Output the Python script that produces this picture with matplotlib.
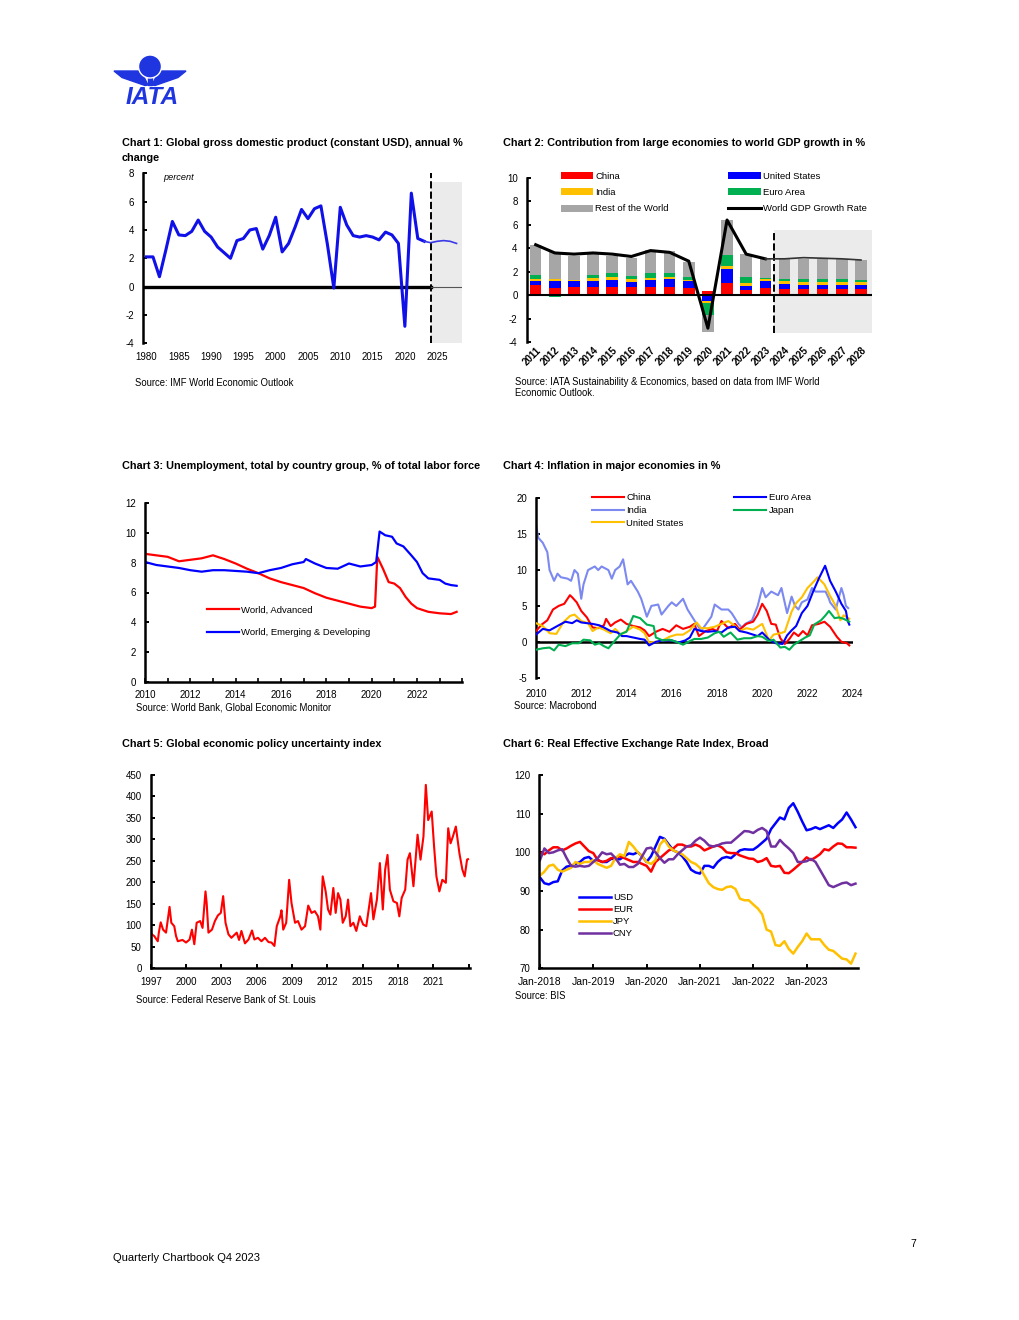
import matplotlib.pyplot as plt
import numpy as np
from matplotlib.patches import Rectangle, Circle, Polygon

plt.rcParams['font.family'] = ['Liberation Sans', 'DejaVu Sans']
plt.rcParams['axes.unicode_minus'] = False

# ---------------- data ----------------
# Chart 1: world GDP growth, % (2024+ forecast)
gdp_years = list(range(1980, 2029))
gdp_growth = [2.1, 2.1, 0.7, 2.6, 4.6, 3.65, 3.6, 3.9, 4.7, 3.9,
              3.5, 2.8, 2.4, 2.0, 3.25, 3.4, 4.0, 4.1, 2.65, 3.6,
              4.9, 2.45, 3.05, 4.2, 5.45, 4.8, 5.5, 5.7, 3.0, -0.1,
              5.6, 4.35, 3.6, 3.5, 3.6, 3.5, 3.3, 3.85, 3.65, 3.05,
              -2.8, 6.6, 3.4, 3.2, 3.1, 3.2, 3.25, 3.2, 3.05]

# Chart 2: contributions to world GDP growth
contrib_years = [str(y) for y in range(2011, 2029)]
china_c = [0.85, 0.65, 0.74, 0.74, 0.74, 0.71, 0.74, 0.74, 0.65, 0.37, 1.08, 0.42, 0.65, 0.57, 0.57, 0.57, 0.51, 0.51]
us_c = [0.37, 0.54, 0.45, 0.45, 0.53, 0.42, 0.53, 0.62, 0.57, -0.48, 1.19, 0.37, 0.54, 0.42, 0.28, 0.34, 0.37, 0.34]
india_c = [0.14, 0.17, 0.11, 0.25, 0.29, 0.23, 0.23, 0.23, 0.08, -0.14, 0.22, 0.23, 0.23, 0.20, 0.25, 0.22, 0.25, 0.25]
euro_c = [0.37, -0.14, -0.03, 0.26, 0.31, 0.25, 0.37, 0.28, 0.23, -1.08, 0.94, 0.54, 0.08, 0.17, 0.26, 0.23, 0.23, 0.17]
rest_c = [2.55, 2.35, 2.04, 1.78, 1.47, 1.59, 1.98, 1.90, 1.30, -1.42, 2.97, 1.98, 1.64, 1.76, 1.76, 1.76, 1.70, 1.73]
world_rate = [4.3, 3.6, 3.5, 3.6, 3.5, 3.3, 3.8, 3.65, 2.9, -2.8, 6.4, 3.5, 3.1, 3.1, 3.2, 3.15, 3.1, 3.0]

# Chart 3: unemployment
adv_x = [2010.0, 2010.5, 2011.0, 2011.5, 2012.0, 2012.5, 2013.0, 2013.5, 2014.0, 2014.5, 2015.0,
         2015.5, 2016.0, 2016.5, 2017.0, 2017.5, 2018.0, 2018.5, 2019.0, 2019.5, 2020.0,
         2020.15, 2020.25, 2020.5, 2020.75, 2021.0, 2021.25, 2021.5, 2021.75, 2022.0, 2022.5,
         2023.0, 2023.5, 2023.75]
adv_unemp = [8.6, 8.5, 8.4, 8.1, 8.2, 8.3, 8.5, 8.25, 7.95, 7.6, 7.3,
             6.95, 6.7, 6.5, 6.3, 5.95, 5.65, 5.45, 5.25, 5.05, 4.95,
             5.05, 8.4, 7.6, 6.7, 6.6, 6.3, 5.7, 5.25, 4.95, 4.7,
             4.6, 4.55, 4.7]
emg_x = [2010.0, 2010.5, 2011.0, 2011.5, 2012.0, 2012.5, 2013.0, 2013.5, 2014.0, 2014.5, 2015.0,
         2015.5, 2016.0, 2016.5, 2017.0, 2017.1, 2017.5, 2018.0, 2018.5, 2019.0, 2019.5, 2020.0,
         2020.2, 2020.35, 2020.6, 2020.9, 2021.1, 2021.4, 2021.75, 2022.0, 2022.25, 2022.5,
         2022.75, 2023.0, 2023.25, 2023.5, 2023.75]
emg_unemp = [8.05, 7.85, 7.75, 7.65, 7.5, 7.4, 7.5, 7.5, 7.45, 7.4, 7.3,
             7.5, 7.65, 7.9, 8.05, 8.25, 7.95, 7.65, 7.6, 7.95, 7.75, 7.85,
             8.05, 10.1, 9.85, 9.75, 9.3, 9.1, 8.5, 8.05, 7.3, 6.95,
             6.9, 6.85, 6.6, 6.5, 6.45]

# Chart 4: inflation
cn_x = [2010.0, 2010.25, 2010.5, 2010.75, 2011.0, 2011.25, 2011.5, 2011.6, 2011.8, 2012.0, 2012.25, 2012.5,
        2012.75, 2013.0, 2013.1, 2013.3, 2013.5, 2013.75, 2014.0, 2014.3, 2014.6, 2014.8, 2015.0, 2015.3,
        2015.6, 2015.9, 2016.2, 2016.5, 2016.8, 2017.0, 2017.2, 2017.5, 2017.8, 2018.0, 2018.2, 2018.5,
        2018.8, 2019.0, 2019.3, 2019.6, 2019.8, 2020.0, 2020.2, 2020.4, 2020.6, 2020.8, 2021.0, 2021.2,
        2021.4, 2021.6, 2021.8, 2022.0, 2022.2, 2022.5, 2022.75, 2023.0, 2023.3, 2023.5, 2023.75, 2023.85]
cn_cpi = [1.5, 2.4, 3.0, 4.5, 5.0, 5.3, 6.5, 6.2, 5.5, 4.3, 3.4, 2.0,
          1.9, 2.3, 3.2, 2.2, 2.7, 3.1, 2.5, 2.2, 2.0, 1.6, 0.8, 1.4,
          1.8, 1.4, 2.3, 1.8, 2.1, 2.5, 0.8, 1.5, 1.8, 1.5, 2.9, 1.9,
          2.5, 1.7, 2.5, 2.8, 3.8, 5.3, 4.3, 2.5, 2.4, 0.5, -0.3, 0.4,
          1.3, 0.8, 1.5, 0.9, 2.3, 2.5, 2.8, 2.1, 0.7, 0.0, -0.2, -0.5]
ea_x = [2010.0, 2010.3, 2010.6, 2011.0, 2011.3, 2011.6, 2011.8, 2012.0, 2012.5, 2012.8, 2013.0, 2013.3,
        2013.6, 2013.8, 2014.0, 2014.3, 2014.6, 2014.8, 2015.0, 2015.3, 2015.6, 2016.0, 2016.3, 2016.6,
        2016.8, 2017.0, 2017.3, 2017.6, 2017.9, 2018.2, 2018.5, 2018.8, 2019.0, 2019.3, 2019.6, 2019.8,
        2020.0, 2020.3, 2020.6, 2020.9, 2021.1, 2021.3, 2021.5, 2021.75, 2022.0, 2022.25, 2022.5, 2022.78,
        2023.0, 2023.25, 2023.5, 2023.7, 2023.78, 2023.85]
ea_cpi = [1.0, 1.8, 1.6, 2.3, 2.8, 2.6, 3.0, 2.7, 2.5, 2.3, 2.0, 1.5,
          1.3, 0.8, 0.8, 0.6, 0.4, 0.3, -0.5, 0.0, 0.2, 0.2, -0.1, 0.2,
          0.6, 1.8, 1.5, 1.4, 1.5, 1.3, 2.0, 2.1, 1.5, 1.3, 1.0, 0.8,
          1.3, 0.3, -0.2, -0.3, 0.9, 1.6, 2.2, 4.0, 5.0, 7.0, 8.8, 10.6,
          8.5, 7.0, 5.3, 4.3, 2.9, 2.4]
in_x = [2010.0, 2010.1, 2010.3, 2010.5, 2010.6, 2010.8, 2010.95, 2011.1, 2011.4, 2011.55, 2011.7, 2011.85,
        2012.0, 2012.1, 2012.3, 2012.6, 2012.75, 2012.9, 2013.2, 2013.35, 2013.5, 2013.7, 2013.85, 2014.05,
        2014.2, 2014.5, 2014.65, 2014.9, 2015.1, 2015.4, 2015.55, 2015.85, 2016.0, 2016.2, 2016.5, 2016.7,
        2017.0, 2017.3, 2017.75, 2017.9, 2018.2, 2018.5, 2018.65, 2018.95, 2019.1, 2019.25, 2019.55, 2019.8,
        2020.0, 2020.15, 2020.4, 2020.7, 2020.85, 2021.1, 2021.3, 2021.45, 2021.6, 2021.75, 2022.0, 2022.2,
        2022.35, 2022.8, 2022.95, 2023.0, 2023.25, 2023.5, 2023.6, 2023.7, 2023.8]
in_cpi = [16.3, 14.5, 13.8, 12.5, 10.0, 8.5, 9.5, 9.0, 8.8, 8.5, 10.0, 9.5,
          6.0, 8.0, 10.0, 10.5, 10.0, 10.5, 10.0, 8.8, 10.0, 10.5, 11.5, 8.0,
          8.5, 7.0, 6.0, 3.5, 5.0, 5.2, 3.8, 5.0, 5.5, 5.0, 6.0, 4.5,
          3.0, 1.5, 3.5, 5.2, 4.5, 4.5, 4.0, 2.5, 2.0, 2.5, 3.0, 5.0,
          7.5, 6.2, 7.0, 6.5, 7.5, 4.0, 6.3, 5.0, 4.5, 5.5, 5.9, 7.5,
          7.0, 7.0, 6.0, 5.5, 4.5, 7.5, 6.5, 5.0, 4.7]
jp_x = [2010.0, 2010.3, 2010.6, 2010.8, 2011.0, 2011.3, 2011.6, 2011.9, 2012.1, 2012.4, 2012.6, 2012.8,
        2013.0, 2013.2, 2013.5, 2013.75, 2014.0, 2014.3, 2014.6, 2014.9, 2015.2, 2015.3, 2015.6, 2015.9,
        2016.2, 2016.5, 2016.8, 2017.0, 2017.3, 2017.6, 2017.9, 2018.1, 2018.3, 2018.6, 2018.9, 2019.2,
        2019.5, 2019.8, 2020.0, 2020.3, 2020.5, 2020.8, 2021.0, 2021.2, 2021.4, 2021.7, 2021.9, 2022.1,
        2022.3, 2022.6, 2022.8, 2022.95, 2023.2, 2023.4, 2023.6, 2023.8, 2023.85]
jp_cpi = [-1.1, -0.9, -0.8, -1.2, -0.4, -0.6, -0.2, -0.2, 0.3, 0.2, -0.4, -0.2,
          -0.6, -0.9, 0.2, 1.1, 1.4, 3.6, 3.3, 2.4, 2.2, 0.6, 0.2, 0.3,
          0.0, -0.4, 0.1, 0.4, 0.4, 0.6, 1.2, 1.4, 0.7, 1.3, 0.3, 0.5,
          0.5, 0.8, 0.7, 0.1, 0.3, -0.8, -0.7, -1.1, -0.4, 0.2, 0.6, 0.9,
          2.4, 3.0, 3.7, 4.3, 3.3, 3.4, 3.2, 2.9, 2.8]
us_x = [2010.0, 2010.3, 2010.6, 2010.9, 2011.2, 2011.5, 2011.7, 2012.0, 2012.3, 2012.5, 2012.75, 2013.0,
        2013.3, 2013.5, 2013.75, 2014.0, 2014.3, 2014.6, 2014.8, 2015.0, 2015.3, 2015.6, 2015.9, 2016.2,
        2016.5, 2016.8, 2017.1, 2017.3, 2017.6, 2017.9, 2018.2, 2018.5, 2018.8, 2019.0, 2019.3, 2019.6,
        2019.8, 2020.0, 2020.3, 2020.5, 2020.8, 2021.0, 2021.3, 2021.5, 2021.75, 2022.0, 2022.25, 2022.45,
        2022.75, 2023.0, 2023.25, 2023.45, 2023.6, 2023.85]
us_cpi = [2.6, 2.2, 1.2, 1.1, 2.7, 3.6, 3.8, 2.9, 2.6, 1.5, 2.0, 1.7,
          1.2, 1.8, 1.0, 1.5, 2.1, 1.7, 1.2, -0.1, 0.0, 0.2, 0.7, 1.0,
          1.0, 1.6, 2.7, 1.9, 1.9, 2.1, 2.5, 2.9, 2.2, 1.5, 1.9, 1.7,
          2.1, 2.5, 0.2, 1.0, 1.2, 1.4, 4.2, 5.4, 6.2, 7.5, 8.3, 9.0,
          8.0, 6.4, 5.0, 3.0, 3.7, 3.2]

# Chart 5: global economic policy uncertainty index
epu_x = [1997.0, 1997.3, 1997.6, 1997.7, 1997.85, 1998.05, 1998.3, 1998.6, 1998.75, 1999.0, 1999.15, 1999.3,
         1999.7, 2000.0, 2000.3, 2000.5, 2000.7, 2000.9, 2001.2, 2001.4, 2001.65, 2001.75, 2001.9, 2002.2,
         2002.45, 2002.7, 2002.95, 2003.15, 2003.35, 2003.6, 2003.85, 2004.3, 2004.5, 2004.7, 2005.0, 2005.3,
         2005.6, 2005.8, 2006.1, 2006.4, 2006.7, 2007.0, 2007.25, 2007.5, 2007.7, 2008.0, 2008.1, 2008.25,
         2008.5, 2008.75, 2008.95, 2009.25, 2009.5, 2009.8, 2010.1, 2010.37, 2010.65, 2010.93, 2011.2, 2011.4,
         2011.6, 2011.85, 2012.05, 2012.25, 2012.5, 2012.7, 2012.9, 2013.1, 2013.3, 2013.55, 2013.75, 2013.95,
         2014.2, 2014.45, 2014.75, 2015.03, 2015.3, 2015.7, 2015.9, 2016.2, 2016.45, 2016.7, 2016.9, 2017.1,
         2017.3, 2017.6, 2017.9, 2018.1, 2018.3, 2018.6, 2018.8, 2019.0, 2019.3, 2019.65, 2019.9, 2020.15,
         2020.35, 2020.55, 2020.85, 2021.05, 2021.25, 2021.5, 2021.75, 2022.05, 2022.25, 2022.45, 2022.65, 2022.9,
         2023.2, 2023.45, 2023.65, 2023.85, 2023.93]
epu_index = [81, 75, 63, 85, 107, 90, 83, 143, 106, 98, 75, 63,
             66, 60, 67, 90, 56, 106, 110, 94, 179, 152, 83, 90,
             110, 123, 129, 168, 106, 79, 71, 83, 66, 87, 58, 67,
             88, 67, 71, 63, 71, 61, 60, 52, 98, 121, 135, 90,
             106, 206, 152, 106, 110, 90, 98, 146, 129, 133, 121, 90,
             214, 179, 137, 125, 187, 129, 175, 160, 106, 121, 160, 98,
             106, 87, 121, 102, 98, 175, 114, 160, 245, 137, 230, 264,
             183, 156, 152, 121, 164, 183, 253, 268, 191, 311, 253, 307,
             427, 345, 365, 284, 214, 179, 206, 199, 326, 291, 307, 330,
             268, 230, 214, 253, 254]

# Chart 6: real effective exchange rates, monthly from Jan-2018
reer_labels = ['Jan-2018', 'Jan-2019', 'Jan-2020', 'Jan-2021', 'Jan-2022', 'Jan-2023']
usd = [93.5, 92, 91.7, 92.3, 92.5, 95.3, 96.3, 96.5, 97, 97.5, 98.5, 98.8,
       97.8, 98, 97.5, 97.5, 98.3, 98.3, 98.2, 99, 99.7, 99.5, 100, 99,
       97.5, 99, 101.5, 104, 103.5, 102, 100.5, 100, 99, 97.5, 95.5, 94.8,
       94.5, 96.5, 96.5, 96, 97.5, 98.5, 98.8, 98.5, 99.5, 100.5, 100.8, 100.7,
       100.7, 101.5, 102.5, 103.5, 106, 107.5, 109, 108.5, 111.5, 112.7, 110.5, 108,
       105.7, 106, 106.5, 106, 106.5, 107, 106.3, 107.5, 108.5, 110.3, 108.5, 106.5]
eur = [100, 99.5, 100.5, 101.3, 101.3, 100.5, 101, 101.7, 102.3, 102.7, 101.5, 100.3,
       99.8, 98, 97.5, 97.8, 98.5, 98.5, 99, 98.5, 98, 97.5, 97.5, 97,
       96.5, 95, 97.5, 98.5, 99.5, 100.5, 101, 102, 102, 101.5, 101.5, 102,
       101.5, 100.5, 101, 101.5, 101.8, 101.2, 100, 99.8, 99.8, 99.2, 98.8, 98.4,
       98.3, 97.5, 97.8, 98.5, 96.5, 96.3, 96.5, 94.7, 94.6, 95.5, 96.5, 97.5,
       98.7, 98, 98.7, 99.5, 100.8, 100.5, 101.5, 102.3, 102.2, 101.3, 101.3, 101.2]
jpy = [94, 95, 96.5, 96.8, 95.5, 95, 95.5, 96, 97.5, 97, 97.5, 97.5,
       98, 97, 96.5, 96, 96.5, 98.5, 99.5, 99, 102.7, 101.5, 100, 99,
       97.5, 97, 98, 102, 103.3, 101.5, 100.5, 100, 99.5, 98.5, 97.5, 97,
       96, 94, 92, 91, 90.5, 90.3, 91, 91.2, 90.5, 88, 87.6, 87.6,
       86.5, 85.5, 84, 80, 79.5, 76, 75.8, 77, 75, 73.8, 75.5, 77,
       79, 77.5, 77.5, 77.5, 76, 74.8, 74.5, 73.5, 72.5, 72.3, 71.2, 73.8]
cny = [98, 101, 99.8, 100, 100.5, 100.8, 98.5, 96.5, 96.3, 96.5, 96.3, 96.5,
       97.5, 98.5, 100, 99.5, 99.7, 98.5, 96.8, 97, 96.2, 96.2, 97, 99,
       101, 101.2, 100, 98.5, 97.3, 98.2, 98.2, 99.5, 100.5, 101.5, 101.8, 103,
       103.8, 103, 101.8, 101.5, 101.8, 102.3, 102.5, 102.5, 103.5, 104.5, 105.5, 105.4,
       105, 105.8, 106.3, 105.5, 101.5, 101.5, 103.2, 102, 101, 99.8, 97.5, 97.5,
       97.7, 98.3, 97.5, 95.5, 93.5, 91.5, 91, 91.5, 92, 92.2, 91.5, 91.9]

# ---------------- page ----------------
W, H = 1020, 1320
BLUE = '#1010e8'
RED = '#ff0000'
GOLD = '#ffc000'
GREEN = '#00b050'
GREY = '#a6a6a6'
SHADE = '#ebebeb'
TS = 7      # tick labels
LS = 6.8    # legend text

fig = plt.figure(figsize=(W / 100, H / 100), dpi=100)
page = fig.add_axes([0, 0, 1, 1])
page.set_xlim(0, W)
page.set_ylim(H, 0)
page.axis('off')


def fpos(x, y):
    return (x / W, 1 - y / H)


def make_ax(x0, y0, x1, y1):
    ax = fig.add_axes([x0 / W, 1 - y1 / H, (x1 - x0) / W, (y1 - y0) / H])
    ax.set_facecolor('none')
    for s in ('top', 'right'):
        ax.spines[s].set_visible(False)
    for s in ('left', 'bottom'):
        ax.spines[s].set_linewidth(1.8)
    ax.tick_params(direction='in', length=3, width=1.4, labelsize=TS, pad=6.5)
    return ax


def title(x, y, s, ls=1.45):
    page.text(x, y, s, fontsize=7.85, fontweight='bold', va='center', linespacing=ls)


def source(x, y, s):
    page.text(x, y, s, fontsize=6.85, va='center', linespacing=1.2)


# logo
lb = '#1e35e0'
page.add_patch(Polygon([(114, 71), (141, 71), (148, 85), (145, 85.5), (122, 77.5)], color=lb))
page.add_patch(Polygon([(186, 71), (159, 71), (152, 85), (155, 85.5), (178, 77.5)], color=lb))
page.add_patch(Rectangle((148, 76), 4, 9, color=lb))
page.add_patch(Circle((150, 66.5), 11.5, facecolor=lb, edgecolor='white', lw=1.0))
page.text(152, 97, 'IATA', ha='center', va='center', fontsize=17.5, fontweight='bold',
          style='italic', color=lb)

# ---------------- Chart 1 ----------------
title(122, 150.5, 'Chart 1: Global gross domestic product (constant USD), annual %\nchange', ls=1.7)
ax1 = make_ax(143.3, 173.3, 461.7, 343.3)
ax1.set_xlim(1979.5, 2028.8)
ax1.set_ylim(-4, 8)
ax1.spines['bottom'].set_visible(False)
ax1.add_patch(Rectangle((2024, -4), 4.8, 11.4, color=SHADE, lw=0, zorder=0))
ax1.plot([2024, 2024], [-4, 8], color='black', ls='--', lw=1.4, zorder=1)
ax1.plot([1979.5, 2024], [0, 0], color='black', lw=2.4, zorder=2)
ax1.plot([2024, 2028.8], [0, 0], color='#555555', lw=0.8, zorder=2)
ax1.plot(gdp_years[:44], gdp_growth[:44], color=BLUE, lw=2.2, zorder=3, solid_joinstyle='round')
ax1.plot(gdp_years[43:], gdp_growth[43:], color='#3a3ae8', lw=1.2, zorder=3)
ax1.set_xticks(range(1980, 2026, 5))
ax1.set_yticks(range(-4, 9, 2))
ax1.tick_params(axis='x', length=0, pad=6)
page.text(163, 177, 'percent', fontsize=6.6, style='italic', va='center')
source(135, 383, 'Source: IMF World Economic Outlook')

# ---------------- Chart 2 ----------------
title(503, 143, 'Chart 2: Contribution from large economies to world GDP growth in %')
ax2 = make_ax(526.7, 177.7, 871.7, 342.3)
ax2.set_xlim(-0.47, 17.56)
ax2.set_ylim(-4, 10)
ax2.spines['bottom'].set_visible(False)
xi = np.arange(len(contrib_years))
ax2.add_patch(Rectangle((12.47, -3.25), 5.09, 8.8, color=SHADE, lw=0, zorder=0))
ax2.plot([12.47, 12.47], [-3.25, 5.5], color='black', ls='--', lw=1.4, zorder=1)
pos = np.zeros(len(xi))
neg = np.zeros(len(xi))
bars = {}
for vals, col, lab in [(china_c, RED, 'China'), (us_c, '#0000ff', 'United States'),
                       (india_c, GOLD, 'India'), (euro_c, GREEN, 'Euro Area'),
                       (rest_c, GREY, 'Rest of the World')]:
    v = np.array(vals)
    bottom = np.where(v >= 0, pos, neg)
    bars[lab] = ax2.bar(xi, v, 0.6, bottom=bottom, color=col, zorder=2)
    pos += np.clip(v, 0, None)
    neg += np.clip(v, None, 0)
ax2.axhline(0, color='black', lw=1.5, zorder=3)
wl, = ax2.plot(xi[:13], world_rate[:13], color='black', lw=2.2, zorder=4)
ax2.plot(xi[12:], world_rate[12:], color='#333333', lw=1.2, zorder=4)
ax2.set_xticks(xi)
ax2.set_xticklabels(contrib_years, rotation=45, ha='right', rotation_mode='anchor',
                    fontweight='bold', fontsize=7)
ax2.tick_params(axis='x', length=0, pad=2)
ax2.set_yticks(range(-4, 11, 2))
order = ['China', 'India', 'Rest of the World', 'United States', 'Euro Area']
ax2.legend([bars[k] for k in order] + [wl], order + ['World GDP Growth Rate'],
           ncol=2, loc='upper left', bbox_to_anchor=fpos(561, 172.0), bbox_transform=fig.transFigure,
           frameon=False, fontsize=LS, handlelength=3.4, handleheight=0.75, handletextpad=0.25,
           columnspacing=6.3, labelspacing=0.76, borderpad=0, borderaxespad=0)
source(515, 387.5, 'Source: IATA Sustainability & Economics, based on data from IMF World\nEconomic Outlook.')

# ---------------- Chart 3 ----------------
title(122, 466, 'Chart 3: Unemployment, total by country group, % of total labor force')
ax3 = make_ax(145, 503.3, 462.3, 681.7)
ax3.set_xlim(2010, 2024)
ax3.set_ylim(0, 12)
ax3.plot(adv_x, adv_unemp, color=RED, lw=1.6, label='World, Advanced')
ax3.plot(emg_x, emg_unemp, color='#0000ff', lw=1.6, label='World, Emerging & Developing')
ax3.set_xticks(range(2010, 2023, 2))
ax3.set_xticks(range(2010, 2025), minor=True)
ax3.tick_params(axis='x', which='both', direction='in', length=3, width=1.2, pad=6)
ax3.set_yticks(range(0, 13, 2))
ax3.legend(loc='upper left', bbox_to_anchor=fpos(207, 605.5), bbox_transform=fig.transFigure,
           frameon=False, fontsize=LS, handlelength=3.4, handletextpad=0.25, labelspacing=1.45,
           borderpad=0, borderaxespad=0)
source(136, 708, 'Source: World Bank, Global Economic Monitor')

# ---------------- Chart 4 ----------------
title(503, 466, 'Chart 4: Inflation in major economies in %')
ax4 = make_ax(536, 498.3, 852.7, 677.7)
ax4.set_xlim(2010, 2024)
ax4.set_ylim(-5, 20)
ax4.spines['bottom'].set_visible(False)
ax4.axhline(0, color='black', lw=1.8, zorder=1)
l_cn, = ax4.plot(cn_x, cn_cpi, color=RED, lw=1.5, zorder=3)
l_in, = ax4.plot(in_x, in_cpi, color='#7b89f0', lw=1.5, zorder=2)
l_us, = ax4.plot(us_x, us_cpi, color=GOLD, lw=1.5, zorder=3)
l_ea, = ax4.plot(ea_x, ea_cpi, color='#0000ff', lw=1.5, zorder=3)
l_jp, = ax4.plot(jp_x, jp_cpi, color=GREEN, lw=1.5, zorder=3)
ax4.set_xticks(range(2010, 2025, 2))
ax4.tick_params(axis='x', length=0, pad=8)
ax4.set_yticks(range(-5, 21, 5))
ax4.legend([l_cn, l_in, l_us, l_ea, l_jp], ['China', 'India', 'United States', 'Euro Area', 'Japan'],
           ncol=2, loc='upper left', bbox_to_anchor=fpos(592, 493.5), bbox_transform=fig.transFigure,
           frameon=False, fontsize=LS, handlelength=3.4, handletextpad=0.25, columnspacing=5.35,
           labelspacing=0.38, borderpad=0, borderaxespad=0)
source(514, 706, 'Source: Macrobond')

# ---------------- Chart 5 ----------------
title(122, 744, 'Chart 5: Global economic policy uncertainty index')
ax5 = make_ax(150.7, 775, 470, 968.3)
ax5.set_xlim(1997, 2024.1)
ax5.set_ylim(0, 450)
ax5.plot(epu_x, epu_index, color=RED, lw=1.5)
ax5.set_xticks(range(1997, 2025, 3))
ax5.set_xticklabels([str(y) for y in range(1997, 2022, 3)] + [''])
ax5.tick_params(axis='x', direction='in', length=3, pad=6)
ax5.set_yticks(range(0, 451, 50))
source(136, 1000, 'Source: Federal Reserve Bank of St. Louis')

# ---------------- Chart 6 ----------------
title(503, 744, 'Chart 6: Real Effective Exchange Rate Index, Broad')
ax6 = make_ax(539.3, 775, 857.7, 968.3)
months = np.arange(len(usd))
ax6.set_xlim(-0.15, 71.5)
ax6.set_ylim(70, 120)
ax6.plot(months, usd, color='#0000ff', lw=1.8, label='USD')
ax6.plot(months, eur, color=RED, lw=1.8, label='EUR')
ax6.plot(months, jpy, color=GOLD, lw=1.8, label='JPY')
ax6.plot(months, cny, color='#7030a0', lw=1.8, label='CNY')
ax6.set_xticks(range(0, 61, 12))
ax6.set_xticklabels(reer_labels, fontsize=7.5)
ax6.tick_params(axis='x', direction='in', length=3, pad=6)
ax6.set_yticks(range(70, 121, 10))
ax6.legend(loc='upper left', bbox_to_anchor=fpos(579, 893), bbox_transform=fig.transFigure,
           frameon=False, fontsize=LS, handlelength=3.4, handletextpad=0.2, labelspacing=0.32,
           borderpad=0, borderaxespad=0)
source(515, 996, 'Source: BIS')

# footer
page.text(113, 1258, 'Quarterly Chartbook Q4 2023', fontsize=8, va='center')
page.text(913, 1244, '7', fontsize=7.5, va='center', ha='center')

fig.savefig('out.png', dpi=100)
